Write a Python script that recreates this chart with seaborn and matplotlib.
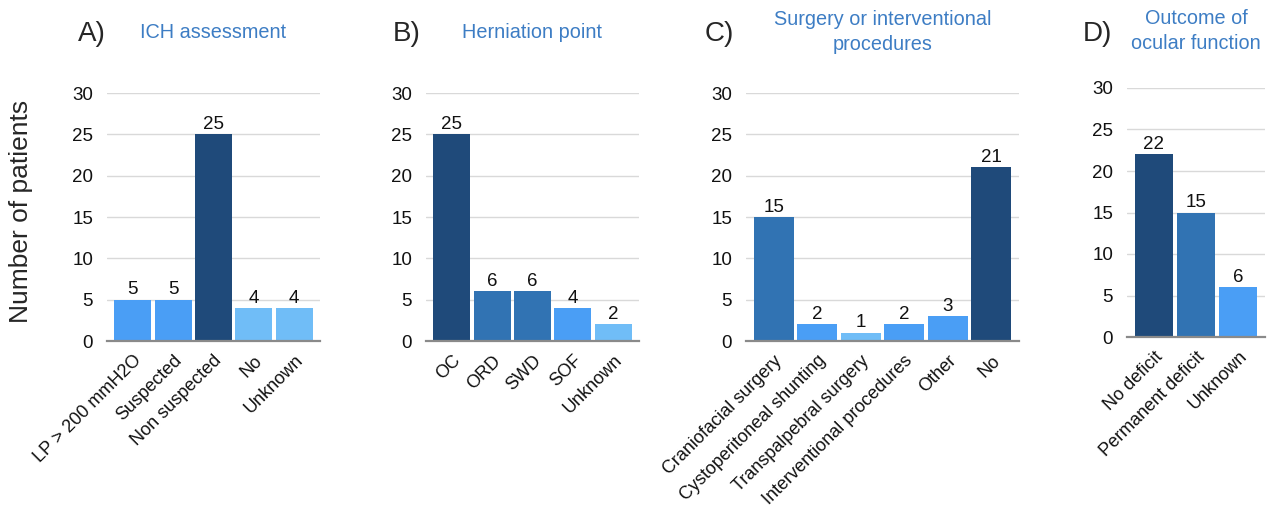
import matplotlib
matplotlib.use("Agg")
import matplotlib.pyplot as plt
import seaborn as sns
import pandas as pd

# Panel data
ich_labels = ["LP > 200 mmH2O", "Suspected", "Non suspected", "No", "Unknown"]
ich_counts = [5, 5, 25, 4, 4]
ich_shades = ["bright", "bright", "dark", "light", "light"]

hern_labels = ["OC", "ORD", "SWD", "SOF", "Unknown"]
hern_counts = [25, 6, 6, 4, 2]
hern_shades = ["dark", "medium", "medium", "bright", "light"]

surg_labels = ["Craniofacial surgery", "Cystoperitoneal shunting", "Transpalpebral surgery",
               "Interventional procedures", "Other", "No"]
surg_counts = [15, 2, 1, 2, 3, 21]
surg_shades = ["medium", "bright", "light", "bright", "bright", "dark"]

ocul_labels = ["No deficit", "Permanent deficit", "Unknown"]
ocul_counts = [22, 15, 6]
ocul_shades = ["dark", "medium", "bright"]

yticks = [0, 5, 10, 15, 20, 25, 30]

shade_colors = {"dark": "#1F4A7A", "medium": "#3173B3",
                "bright": "#4A9EF5", "light": "#70BDF7"}
title_color = "#3D7DC4"

panels = [
    ("A)", "ICH assessment", ich_labels, ich_counts, ich_shades),
    ("B)", "Herniation point", hern_labels, hern_counts, hern_shades),
    ("C)", "Surgery or interventional\nprocedures", surg_labels, surg_counts, surg_shades),
    ("D)", "Outcome of\nocular function", ocul_labels, ocul_counts, ocul_shades),
]

# axes boxes in pixels: left, top, right, bottom
boxes = [(107, 93, 320, 341), (426, 93, 639, 341), (746, 93, 1019, 341), (1127, 88, 1265, 337)]
letter_x = [78, 393, 705, 1083]
title_y = [32, 32, 32, 31]

W, H = 1271, 509

sns.set_style("white")
plt.rcParams["font.family"] = ["Liberation Sans", "DejaVu Sans"]

fig = plt.figure(figsize=(W / 100, H / 100), dpi=100)

for i, (letter, title, labels, counts, shades) in enumerate(panels):
    l, t, r, b = boxes[i]
    ax = fig.add_axes([l / W, (H - b) / H, (r - l) / W, (b - t) / H])
    df = pd.DataFrame({"cat": labels, "n": counts})
    pal = {c: shade_colors[s] for c, s in zip(labels, shades)}
    sns.barplot(data=df, x="cat", y="n", hue="cat", palette=pal, legend=False,
                width=0.92, linewidth=0, saturation=1, ax=ax)
    for cont in ax.containers:
        ax.bar_label(cont, fontsize=13.5, padding=1, color="#111111")
    ax.set_ylim(0, 30)
    ax.set_xlim(-0.64, len(labels) - 0.36)
    ax.set_yticks(yticks)
    ax.yaxis.grid(True, color="#d9d9d9", linewidth=1)
    ax.set_axisbelow(True)
    for side in ["left", "right", "top"]:
        ax.spines[side].set_visible(False)
    ax.spines["bottom"].set_color("#8a8a8a")
    ax.spines["bottom"].set_linewidth(1.6)
    ax.tick_params(axis="y", length=0, labelsize=13.5, colors="#111111", pad=10)
    ax.tick_params(axis="x", length=0, labelsize=13, colors="#111111", pad=8)
    plt.setp(ax.get_xticklabels(), rotation=45, ha="right", rotation_mode="anchor")
    ax.set_xlabel("")
    ax.set_ylabel("")

    fig.text(letter_x[i] / W, 1 - 34 / H, letter, fontsize=20, ha="left", va="center")
    fig.text((l + r) / 2 / W, 1 - title_y[i] / H, title, fontsize=14.3, color=title_color,
             ha="center", va="center", linespacing=1.4)

fig.text(21 / W, 1 - 211 / H, "Number of patients", fontsize=19, rotation=90,
         ha="center", va="center")

fig.savefig("out.png", dpi=100)
